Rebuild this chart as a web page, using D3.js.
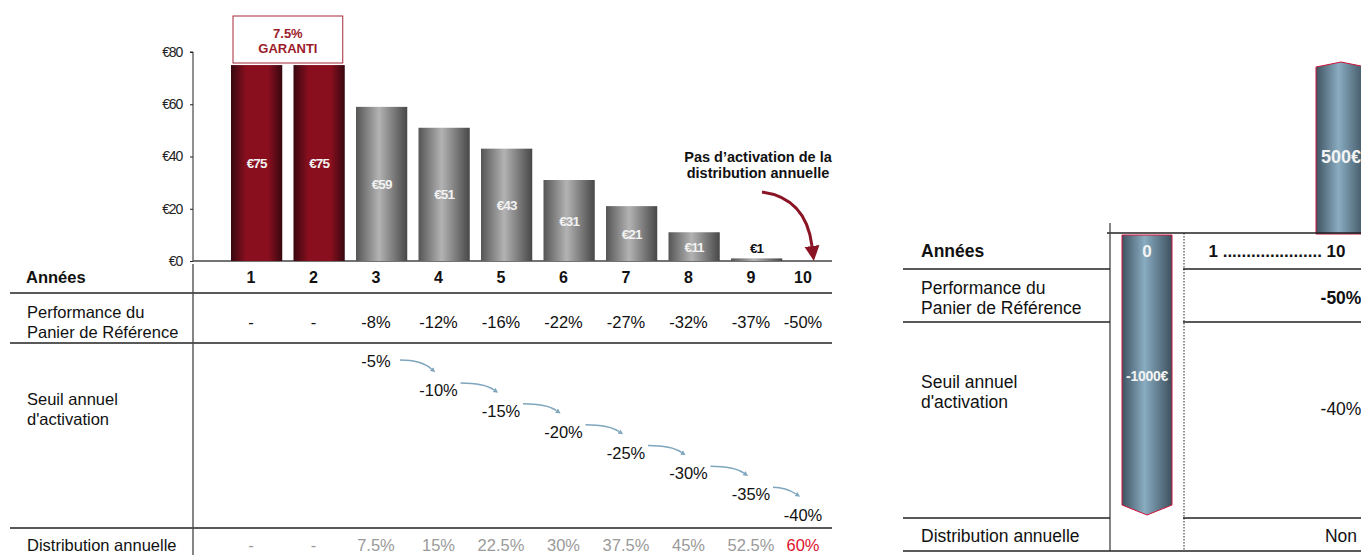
<!DOCTYPE html>
<html>
<head>
<meta charset="utf-8">
<script src="https://cdn.jsdelivr.net/npm/d3@7"></script>
<style>
  body { margin: 0; background: #fff; }
  text { font-family: "Liberation Sans", Arial, sans-serif; }
</style>
</head>
<body>
<svg id="chart" width="1361" height="555"></svg>
<script>
// ---- data ----
const years = [1, 2, 3, 4, 5, 6, 7, 8, 9, 10];
const barValues = [75, 75, 59, 51, 43, 31, 21, 11, 1, 0];
const guaranteedYears = [1, 2];
const yTicks = [0, 20, 40, 60, 80];
const performance = ['-', '-', '-8%', '-12%', '-16%', '-22%', '-27%', '-32%', '-37%', '-50%'];
const thresholds = [null, null, -5, -10, -15, -20, -25, -30, -35, -40];
const distribution = ['-', '-', '7.5%', '15%', '22.5%', '30%', '37.5%', '45%', '52.5%', '60%'];
const rowLabels = ['Performance du|Panier de Référence', "Seuil annuel|d'activation", 'Distribution annuelle'];

const cashYears = ['0', '10'];
const cashValues = [-1000, 500];
const cashLabels = ['-1000€', '500€'];
const rightPerf = '-50%';
const rightThreshold = '-40%';
const rightDistribution = 'Non';

const svg = d3.select('#chart');
const defs = svg.append('defs');

const gradient = (id, stops) => {
    const g = defs.append('linearGradient').attr('id', id)
        .attr('x1', 0).attr('x2', 1).attr('y1', 0).attr('y2', 0);
    stops.forEach(([o, c]) => g.append('stop').attr('offset', o).attr('stop-color', c));
};
gradient('gRed', [[0, '#380810'], [0.3, '#8a0f1e'], [0.72, '#8a0f1e'], [1, '#380810']]);
gradient('gGrey', [[0, '#555'], [0.45, '#b3b3b3'], [1, '#474747']]);
gradient('gBlue', [[0, '#3f5361'], [0.45, '#89acc1'], [1, '#3c505e']]);

// arrowhead pointing along the path, base at the path end
const marker = (id, color, len, wid) =>
    defs.append('marker').attr('id', id)
        .attr('viewBox', '0 0 10 10').attr('refX', 0).attr('refY', 5)
        .attr('markerWidth', len).attr('markerHeight', wid)
        .attr('markerUnits', 'userSpaceOnUse')
        .attr('orient', 'auto')
        .append('path').attr('d', 'M0,0 L10,5 L0,10 Z').attr('fill', color);
marker('arrRed', '#8b1424', 15, 17);
marker('arrBlue', '#7fa6bd', 5, 7);

// ---- left chart ----
const x = d3.scaleBand().domain(years).range([231, 844.75]).paddingInner(0.18);
const y = d3.scaleLinear().domain([0, 80]).range([261, 52]);
const col = d3.scaleLinear().domain([1, 9, 10]).range([251, 751, 803]);

svg.append('g')
    .attr('transform', 'translate(193,0)')
    .call(d3.axisLeft(y).tickValues(yTicks).tickSize(3).tickPadding(8).tickFormat(d => '€' + d))
    .call(g => g.select('.domain').attr('stroke', '#222').attr('d', `M-3,${y(80)}H0V${y(0)}`))
    .call(g => g.selectAll('line').attr('stroke', '#222'))
    .call(g => g.selectAll('text').attr('font-size', 14).attr('fill', '#222')
        .attr('font-family', '"Liberation Sans", Arial, sans-serif').attr('letter-spacing', -1.2));

svg.append('line').attr('x1', 193).attr('x2', 832).attr('y1', y(0)).attr('y2', y(0))
    .attr('stroke', '#444').attr('stroke-width', 1.5);

const bars = svg.append('g').selectAll('g')
    .data(years.map((d, i) => ({ year: d, value: barValues[i] })))
    .join('g');

bars.filter(d => d.value > 0).append('rect')
    .attr('x', d => x(d.year))
    .attr('width', x.bandwidth())
    .attr('y', d => y(d.value))
    .attr('height', d => y(0) - y(d.value))
    .attr('fill', d => guaranteedYears.includes(d.year) ? 'url(#gRed)' : 'url(#gGrey)');

bars.filter(d => d.value > 0).append('text')
    .attr('x', d => x(d.year) + x.bandwidth() / 2)
    .attr('y', d => d.value > 5 ? (y(d.value) + y(0)) / 2 + 5 : y(d.value) - 5)
    .attr('text-anchor', 'middle')
    .attr('font-size', 13.5).attr('font-weight', 'bold')
    .attr('letter-spacing', -0.9)
    .attr('fill', d => d.value > 5 ? '#f2f2f2' : '#111')
    .text(d => '€' + d.value);

// guaranteed box
const boxX0 = x(guaranteedYears[0]) + 2;
const boxX1 = x(guaranteedYears[1]) + x.bandwidth() - 2;
svg.append('rect').attr('x', boxX0).attr('y', 16).attr('width', boxX1 - boxX0).attr('height', 47)
    .attr('fill', '#fff').attr('stroke', '#a3283a').attr('stroke-width', 1);
['7.5%', 'GARANTI'].forEach((t, i) =>
    svg.append('text').attr('x', (boxX0 + boxX1) / 2).attr('y', 38 + i * 15)
        .attr('text-anchor', 'middle').attr('font-size', 13).attr('font-weight', 'bold')
        .attr('fill', '#9b1b2b').text(t));

// annotation
['Pas d’activation de la', 'distribution annuelle'].forEach((t, i) =>
    svg.append('text').attr('x', 758).attr('y', 162 + i * 16)
        .attr('text-anchor', 'middle').attr('font-size', 14.5).attr('font-weight', 'bold')
        .attr('fill', '#111').text(t));
svg.append('path')
    .attr('d', `M762,192 Q806,198 ${col(10) + 9},246`)
    .attr('fill', 'none').attr('stroke', '#8b1424').attr('stroke-width', 3)
    .attr('marker-end', 'url(#arrRed)');

// ---- left table ----
const hline = (x1, x2, yy) => svg.append('line').attr('x1', x1).attr('x2', x2)
    .attr('y1', yy).attr('y2', yy).attr('stroke', '#222').attr('stroke-width', 1.3);
hline(10, 832, 293);
hline(10, 832, 343);
hline(10, 832, 528);
svg.append('line').attr('x1', 193).attr('x2', 193).attr('y1', 264).attr('y2', 555)
    .attr('stroke', '#444').attr('stroke-width', 1.3);

const rowText = (xx, yy, label, size, anchor = 'start', bold = false) => {
    const lines = label.split('|');
    lines.forEach((t, i) =>
        svg.append('text').attr('x', xx)
            .attr('y', yy + size * 0.36 + (i - (lines.length - 1) / 2) * 20)
            .attr('text-anchor', anchor).attr('font-size', size)
            .attr('font-weight', bold ? 'bold' : null)
            .attr('fill', '#111').text(t));
};

const FS = 16.5;
rowText(26, 277, 'Années', 16.5, 'start', true);
rowText(27, 322, rowLabels[0], FS);
rowText(27, 409, rowLabels[1], FS);
rowText(27, 545, rowLabels[2], FS);

svg.append('g').selectAll('text').data(years).join('text')
    .attr('x', d => col(d)).attr('y', 277 + 6)
    .attr('text-anchor', 'middle').attr('font-size', 16).attr('font-weight', 'bold')
    .attr('fill', '#111').text(d => d);

svg.append('g').selectAll('text').data(performance).join('text')
    .attr('x', (d, i) => col(years[i])).attr('y', 322 + 6)
    .attr('text-anchor', 'middle').attr('font-size', FS).attr('fill', '#111').text(d => d);

svg.append('g').selectAll('text').data(distribution).join('text')
    .attr('x', (d, i) => col(years[i])).attr('y', 545 + 6)
    .attr('text-anchor', 'middle').attr('font-size', FS)
    .attr('fill', (d, i) => i === distribution.length - 1 ? '#e0102f' : '#9a9a9a').text(d => d);

// staggered thresholds
const thrY = d3.scaleLinear().domain([-5, -10, -40]).range([361, 390, 515]);
const thr = years.map((d, i) => ({ year: d, v: thresholds[i] })).filter(d => d.v !== null);

svg.append('g').selectAll('text').data(thr).join('text')
    .attr('x', d => col(d.year)).attr('y', d => thrY(d.v) + 6)
    .attr('text-anchor', 'middle').attr('font-size', FS).attr('fill', '#111')
    .text(d => d.v + '%');

svg.append('g').selectAll('path').data(d3.pairs(thr)).join('path')
    .attr('d', ([a, b]) => {
        const x0 = col(a.year) + (a.v > -10 ? 24 : 22), y0 = thrY(a.v) - (a.v > -10 ? 1 : 7);
        const x1 = col(b.year) - 7, y1 = thrY(b.v) - 21;
        return `M${x0},${y0} Q${x1 - 10},${y0} ${x1},${y1}`;
    })
    .attr('fill', 'none').attr('stroke', '#7fa6bd').attr('stroke-width', 1.5)
    .attr('marker-end', 'url(#arrBlue)');

// ---- right panel ----
const rx = d3.scalePoint().domain(cashYears).range([1147, 1341]);
const ry = d3.scaleLinear().domain([-1000, 0, 500]).range([505, 234, 67]);
const bw = 50;

svg.append('g').selectAll('path').data(cashYears.map((d, i) => ({ year: d, v: cashValues[i] })))
    .join('path')
    .attr('d', d => {
        const c = rx(d.year), x0 = c - bw / 2, x1 = c + bw / 2;
        if (d.v >= 0) {
            const t = ry(d.v);
            return `M${x0},${ry(0)}V${t}L${c},${t - 5}L${x1},${t}V${ry(0)}Z`;
        }
        const b = ry(d.v);
        return `M${x0},${ry(0) + 1}H${x1}V${b}L${c},${b + 10}L${x0},${b}Z`;
    })
    .attr('fill', 'url(#gBlue)').attr('stroke', '#d0143a').attr('stroke-width', 1);

svg.append('text').attr('x', rx('0')).attr('y', 376 + 5)
    .attr('text-anchor', 'middle').attr('font-size', 14).attr('font-weight', 'bold')
    .attr('letter-spacing', -0.3).attr('fill', '#f4f4f4').text(cashLabels[0]);
svg.append('text').attr('x', rx('10')).attr('y', 156 + 6.5)
    .attr('text-anchor', 'middle').attr('font-size', 18).attr('font-weight', 'bold')
    .attr('fill', '#f4f4f4').text(cashLabels[1]);

// axis + dividers
svg.append('line').attr('x1', 1107).attr('x2', 1361).attr('y1', 233).attr('y2', 233)
    .attr('stroke', '#222').attr('stroke-width', 1.3);
svg.append('line').attr('x1', 1110).attr('x2', 1110).attr('y1', 223).attr('y2', 551)
    .attr('stroke', '#444').attr('stroke-width', 1.3);
svg.append('line').attr('x1', 1184).attr('x2', 1184).attr('y1', 233).attr('y2', 551)
    .attr('stroke', '#222').attr('stroke-width', 1).attr('stroke-dasharray', '1.5,1.5');

[269, 322, 518].forEach(yy => { hline(903, 1110, yy); hline(1183, 1361, yy); });
hline(903, 1361, 551);

const FR = 17.5;
rowText(921, 251, 'Années', FR, 'start', true);
rowText(921, 298, rowLabels[0], FR);
rowText(921, 392, rowLabels[1], FR);
rowText(921, 536, rowLabels[2], FR);

svg.append('text').attr('x', rx('0')).attr('y', 251 + 6).attr('text-anchor', 'middle')
    .attr('font-size', 17).attr('font-weight', 'bold').attr('fill', '#f4f4f4').text(cashYears[0]);
svg.append('text').attr('x', 1277).attr('y', 251 + 6).attr('text-anchor', 'middle')
    .attr('font-size', 17).attr('font-weight', 'bold').attr('fill', '#111')
    .text('1 ..................... ' + cashYears[1]);

rowText(rx('10'), 298, rightPerf, 17.5, 'middle', true);
rowText(rx('10'), 409, rightThreshold, FR, 'middle');
rowText(rx('10'), 536, rightDistribution, FR, 'middle');
</script>
</body>
</html>
